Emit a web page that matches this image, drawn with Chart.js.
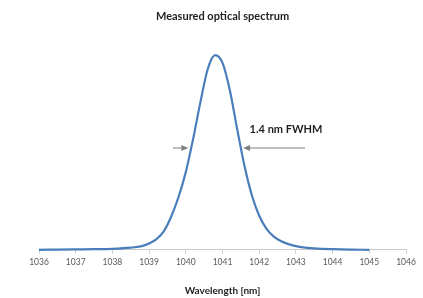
<!DOCTYPE html>
<html>
<head>
<meta charset="utf-8">
<script src="https://cdn.jsdelivr.net/npm/chart.js@4"></script>
<style>
  body { margin: 0; background: #fff; }
</style>
</head>
<body>
<canvas id="spectrum" width="423" height="298"></canvas>
<script>
// wavelength in nm, intensity normalised to the peak
const wavelengths = [1036.0, 1036.5, 1037.0, 1037.5, 1038.0, 1038.5, 1038.8, 1039.0, 1039.2, 1039.4,
    1039.6, 1039.8, 1040.0, 1040.2, 1040.4, 1040.6, 1040.8, 1041.0, 1041.2, 1041.4,
    1041.6, 1041.8, 1042.0, 1042.2, 1042.4, 1042.6, 1042.8, 1043.0, 1043.2, 1043.5,
    1044.0, 1044.5, 1045.0];
const intensity = [0.000, 0.001, 0.002, 0.003, 0.005, 0.011, 0.019, 0.032, 0.055, 0.095,
    0.170, 0.270, 0.400, 0.570, 0.760, 0.930, 1.000, 0.960, 0.820, 0.620,
    0.430, 0.280, 0.175, 0.108, 0.068, 0.044, 0.029, 0.019, 0.012, 0.007,
    0.003, 0.001, 0.000];
const xTicks = [1036, 1037, 1038, 1039, 1040, 1041, 1042, 1043, 1044, 1045, 1046];

// FWHM markers: [from, to] in nm, drawn at height fwhmLevel
const leftArrow = [1039.65, 1040.07];
const rightArrow = [1043.25, 1041.56];
const fwhmLevel = 0.523;
const fwhmLabel = "1.4 nm FWHM";
const fwhmLabelPos = [1042.73, 0.62];

const font = "Lato, 'DejaVu Sans', sans-serif";

const fwhmPlugin = {
    id: "fwhm",
    afterDatasetsDraw(chart) {
        const ctx = chart.ctx;
        const xs = chart.scales.x;
        const ys = chart.scales.y;
        const y = ys.getPixelForValue(fwhmLevel);
        [leftArrow, rightArrow].forEach(a => {
            const x0 = xs.getPixelForValue(a[0]);
            const x1 = xs.getPixelForValue(a[1]);
            const dir = Math.sign(x1 - x0);
            ctx.save();
            ctx.strokeStyle = "#7f7f7f";
            ctx.fillStyle = "#7f7f7f";
            ctx.lineWidth = 1;
            ctx.beginPath();
            ctx.moveTo(x0, y);
            ctx.lineTo(x1 - dir * 6, y);
            ctx.stroke();
            ctx.beginPath();
            ctx.moveTo(x1, y);
            ctx.lineTo(x1 - dir * 7, y - 3);
            ctx.lineTo(x1 - dir * 7, y + 3);
            ctx.closePath();
            ctx.fill();
            ctx.restore();
        });
        ctx.save();
        ctx.font = "bold 11px " + font;
        ctx.fillStyle = "#1f1f1f";
        ctx.textAlign = "center";
        ctx.textBaseline = "middle";
        ctx.fillText(fwhmLabel, xs.getPixelForValue(fwhmLabelPos[0]), ys.getPixelForValue(fwhmLabelPos[1]));
        ctx.restore();
    }
};

new Chart(document.getElementById("spectrum").getContext("2d"), {
    type: "line",
    data: {
        datasets: [{
            data: wavelengths.map((w, i) => ({ x: w, y: intensity[i] })),
            borderColor: "#4a7ebb",
            borderWidth: 2.2,
            pointRadius: 0,
            cubicInterpolationMode: "monotone",
            clip: false
        }]
    },
    options: {
        responsive: false,
        devicePixelRatio: 1,
        animation: false,
        layout: { padding: { left: 39, right: 17, top: 0, bottom: 1 } },
        plugins: {
            legend: { display: false },
            tooltip: { enabled: false },
            title: {
                display: true,
                text: "Measured optical spectrum",
                color: "#1f1f1f",
                font: { family: font, size: 11, weight: "bold" },
                padding: { top: 10, bottom: 12.5 }
            }
        },
        scales: {
            x: {
                type: "linear",
                min: 1036,
                max: 1046,
                afterBuildTicks: axis => { axis.ticks = xTicks.map(v => ({ value: v })); },
                grid: { drawOnChartArea: false, drawTicks: true, tickLength: 4, color: "#d0d0d0" },
                border: { color: "#c8c8c8", width: 1 },
                ticks: {
                    padding: 3,
                    maxRotation: 0,
                    color: "#595959",
                    font: { family: font, size: 8.5 },
                    callback: v => String(v)
                },
                title: {
                    display: true,
                    text: "Wavelength [nm]",
                    color: "#1f1f1f",
                    font: { family: font, size: 10, weight: "bold" },
                    padding: { top: 15, bottom: 0 }
                }
            },
            y: {
                display: false,
                min: 0,
                max: 1.1
            }
        }
    },
    plugins: [fwhmPlugin]
});
</script>
</body>
</html>
